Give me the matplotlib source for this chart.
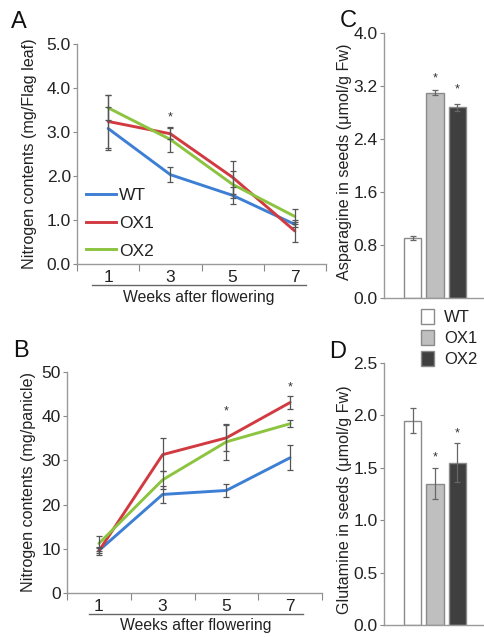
import numpy as np
import matplotlib
matplotlib.use('Agg')
import matplotlib.pyplot as plt
from matplotlib.patches import Patch
from matplotlib.lines import Line2D

plt.rcParams['font.family'] = ['Liberation Sans', 'DejaVu Sans']
plt.rcParams['font.size'] = 10.5
plt.rcParams['text.color'] = '#222222'
plt.rcParams['axes.labelcolor'] = '#222222'
plt.rcParams['xtick.color'] = '#888888'
plt.rcParams['ytick.color'] = '#888888'
plt.rcParams['xtick.labelcolor'] = '#222222'
plt.rcParams['ytick.labelcolor'] = '#222222'

# weeks after flowering
weeks = [1, 3, 5, 7]
genotypes = ['WT', 'OX1', 'OX2']
line_colors = ['#3d7fd4', '#d13a40', '#8cc43f']
bar_colors = ['#ffffff', '#bfbfbf', '#3f3f3f']

# A: nitrogen in flag leaf (mg/flag leaf)
leaf_wt = [3.08, 2.03, 1.56, 0.90]
leaf_ox1 = [3.24, 2.96, 1.97, 0.75]
leaf_ox2 = [3.55, 2.83, 1.81, 1.08]
leaf_wt_err = [0.48, 0.17, 0.20, 0.06]
leaf_ox1_err = [0.60, 0.12, 0.38, 0.25]
leaf_ox2_err = [0.28, 0.28, 0.30, 0.16]
leaf_star = {3: 3.33}

# B: nitrogen in panicle (mg/panicle)
pan_wt = [9.6, 22.3, 23.2, 30.6]
pan_ox1 = [9.5, 31.3, 35.1, 43.1]
pan_ox2 = [11.2, 25.6, 34.2, 38.3]
pan_wt_err = [0.6, 2.0, 1.4, 2.8]
pan_ox1_err = [1.0, 3.7, 3.0, 1.4]
pan_ox2_err = [1.8, 2.0, 4.0, 0.8]
pan_star = {5: 41.0, 7: 46.6}

# C: asparagine in seeds (umol/g Fw)
asn = [0.91, 3.10, 2.88]
asn_err = [0.03, 0.04, 0.05]
asn_star = [None, 3.32, 3.15]

# D: glutamine in seeds (umol/g Fw)
gln = [1.95, 1.35, 1.55]
gln_err = [0.12, 0.15, 0.19]
gln_star = [None, 1.60, 1.83]

fig = plt.figure(figsize=(4.84, 6.37), dpi=100)
W, H = 484.0, 637.0

def rect(l, r, t, b):
    return [l / W, 1 - b / H, (r - l) / W, (b - t) / H]

def style_axes(ax):
    for s in ['top', 'right']:
        ax.spines[s].set_visible(False)
    for s in ['left', 'bottom']:
        ax.spines[s].set_color('#9a9a9a')
        ax.spines[s].set_linewidth(1.0)
    ax.tick_params(axis='y', length=3, width=0.8, pad=1.5)

def line_panel(ax, series, errs, ylim, yticks, yfmt, ylabel, stars, grp):
    for vals, err, c in zip(series, errs, line_colors):
        ax.plot(weeks, vals, color=c, lw=2.1, solid_capstyle='round', zorder=3)
        ax.errorbar(weeks, vals, yerr=err, fmt='none', ecolor='#555555',
                    elinewidth=0.9, capsize=2.2, capthick=0.9, zorder=4)
    ax.set_xlim(0, 8)
    ax.set_ylim(*ylim)
    ax.set_xticks(weeks)
    ax.set_xticklabels([str(w) for w in weeks], fontsize=12.5)
    ax.set_xticks([0, 2, 4, 6, 8], minor=True)
    ax.tick_params(axis='x', which='major', length=0, pad=4)
    ax.tick_params(axis='x', which='minor', length=5, width=0.8, direction='out')
    ax.set_yticks(yticks)
    ax.set_yticklabels([yfmt % v for v in yticks], fontsize=12.5)
    style_axes(ax)
    ax.set_ylabel(ylabel, fontsize=11.6)
    for w, y in stars.items():
        ax.text(w, y, '*', ha='center', va='center', fontsize=9, color='#333333')
    # grouping line under the week labels
    x0, x1, yl, yt = grp
    ax.add_line(Line2D([x0, x1], [yl, yl], transform=ax.transAxes, color='#666666',
                       lw=1.0, clip_on=False))
    ax.text((x0 + x1) / 2, yt, 'Weeks after flowering', transform=ax.transAxes,
            ha='center', va='center', fontsize=11.3)

def bar_panel(ax, vals, err, stars, ylim, yticks, yfmt, ylabel):
    x = np.arange(len(vals))
    ax.bar(x, vals, width=0.76, color=bar_colors, edgecolor='#8a8a8a', linewidth=1.0,
           zorder=2)
    ax.errorbar(x, vals, yerr=err, fmt='none', ecolor='#666666', elinewidth=0.9,
                capsize=2.2, capthick=0.9, zorder=3)
    for xi, s in zip(x, stars):
        if s is not None:
            ax.text(xi, s, '*', ha='center', va='center', fontsize=9, color='#333333')
    ax.set_xlim(-1.27, 3.18)
    ax.set_ylim(*ylim)
    ax.set_xticks([])
    ax.set_yticks(yticks)
    ax.set_yticklabels([yfmt % v for v in yticks], fontsize=12.5)
    style_axes(ax)
    ax.set_ylabel(ylabel, fontsize=11.6)

# A
axA = fig.add_axes(rect(77, 326, 44, 264))
line_panel(axA, [leaf_wt, leaf_ox1, leaf_ox2], [leaf_wt_err, leaf_ox1_err, leaf_ox2_err],
           (0, 5), [0, 1, 2, 3, 4, 5], '%.1f', 'Nitrogen contents (mg/Flag leaf)',
           leaf_star, (0.06, 0.92, -0.095, -0.15))
axA.yaxis.set_label_coords(-0.16, 0.5)
handles = [Line2D([0], [0], color=c, lw=2.1) for c in line_colors]
axA.legend(handles, genotypes, loc='upper left', bbox_to_anchor=(0.035, 0.345),
           frameon=False, fontsize=12.5, handlelength=1.75, handletextpad=0.15,
           labelspacing=0.72, borderpad=0, borderaxespad=0)

# B
axB = fig.add_axes(rect(67, 322, 372, 593))
line_panel(axB, [pan_wt, pan_ox1, pan_ox2], [pan_wt_err, pan_ox1_err, pan_ox2_err],
           (0, 50), [0, 10, 20, 30, 40, 50], '%d', 'Nitrogen contents (mg/panicle)',
           pan_star, (0.086, 0.925, -0.095, -0.145))
axB.yaxis.set_label_coords(-0.12, 0.5)

# C
axC = fig.add_axes(rect(384, 484, 33, 298))
bar_panel(axC, asn, asn_err, asn_star, (0, 4.0), [0, 0.8, 1.6, 2.4, 3.2, 4.0], '%.1f',
          'Asparagine in seeds (\u03bcmol/g Fw)')
axC.yaxis.set_label_coords(-0.32, 0.515)

# D
axD = fig.add_axes(rect(384, 484, 363, 625))
bar_panel(axD, gln, gln_err, gln_star, (0, 2.5), [0, 0.5, 1.0, 1.5, 2.0, 2.5], '%.1f',
          'Glutamine in seeds (\u03bcmol/g Fw)')
axD.yaxis.set_label_coords(-0.32, 0.48)

patches = [Patch(facecolor=c, edgecolor='#8a8a8a', linewidth=1.0) for c in bar_colors]
fig.legend(patches, genotypes, loc='upper left', bbox_to_anchor=(421 / W, 1 - 309 / H),
           frameon=False, fontsize=12, handlelength=0.8, handleheight=1.0,
           handletextpad=0.6, labelspacing=0.3, borderpad=0, borderaxespad=0)

# panel letters
for letter, x, y in [('A', 11, 22), ('B', 13, 351), ('C', 340, 21), ('D', 329, 352)]:
    fig.text(x / W, 1 - y / H, letter, fontsize=17, ha='left', va='center', color='#111111')

fig.savefig('out.png', dpi=100)
